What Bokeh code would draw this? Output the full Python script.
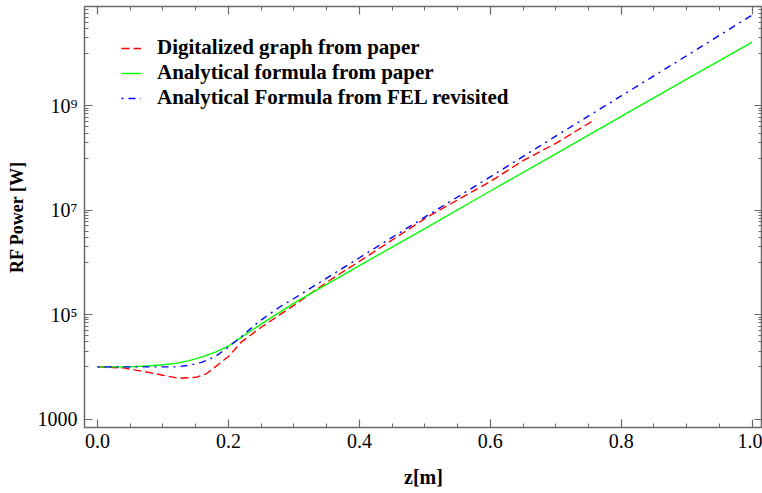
import numpy as np
from bokeh.plotting import figure
from bokeh.models import Range1d, LogAxis, LinearAxis, FixedTicker, Legend, LegendItem, PrintfTickFormatter
from bokeh.embed import file_html
from bokeh.resources import INLINE

# --- data (z in m, power in W) ---
z_digit = [0.00, 0.04, 0.08, 0.10, 0.125, 0.15, 0.165, 0.18, 0.20, 0.22, 0.25, 0.30,
           0.35, 0.40, 0.45, 0.50, 0.55, 0.60, 0.65, 0.70, 0.76]
p_digit = [1.00e4, 9.55e3, 7.76e3, 6.92e3, 6.03e3, 6.31e3, 7.24e3, 1.00e4, 1.58e4, 3.02e4,
           5.75e4, 1.51e5, 4.17e5, 1.05e6, 2.69e6, 6.92e6, 1.58e7, 3.55e7, 8.91e7, 1.91e8, 5.50e8]

z_paper = [0.00, 0.05, 0.08, 0.10, 0.12, 0.14, 0.16, 0.18, 0.20, 0.22, 0.25, 0.30,
           0.40, 0.50, 0.60, 0.70, 0.80, 0.90, 1.00]
p_paper = [1.00e4, 1.00e4, 1.05e4, 1.10e4, 1.17e4, 1.32e4, 1.55e4, 1.91e4, 2.51e4, 3.72e4,
           6.61e4, 1.66e5, 8.71e5, 4.47e6, 2.34e7, 1.20e8, 6.31e8, 3.24e9, 1.66e10]

z_fel = [0.00, 0.05, 0.10, 0.12, 0.14, 0.16, 0.18, 0.20, 0.22, 0.24, 0.26, 0.28, 0.30,
         0.35, 0.40, 0.50, 0.60, 0.70, 0.80, 0.90, 1.00]
p_fel = [1.00e4, 1.00e4, 1.00e4, 1.00e4, 1.07e4, 1.23e4, 1.58e4, 2.40e4, 3.80e4, 6.31e4,
         9.77e4, 1.45e5, 2.04e5, 5.01e5, 1.23e6, 7.41e6, 4.37e7, 2.63e8, 1.55e9, 9.12e9, 5.50e10]

x_major = [0.0, 0.2, 0.4, 0.6, 0.8, 1.0]
x_minor = list(np.round(np.arange(0.0, 1.05, 0.05), 2))
y_major = [1e3, 1e5, 1e7, 1e9]
y_minor = [k * 10.0 ** e for e in (4, 6, 8, 10) for k in range(1, 10)]
y_labels = {1e3: "1000", 1e5: "10\u2075", 1e7: "10\u2077", 1e9: "10\u2079"}

labels = ["Digitalized graph from paper", "Analytical formula from paper",
          "Analytical Formula from FEL revisited"]

FONT = "Liberation Serif"
FRAME = "#6a6a6a"

p = figure(width=762, height=493, x_range=Range1d(-0.0199, 1.0158),
           y_range=Range1d(690, 8.0e10), y_axis_type="log",
           output_backend="svg", toolbar_location=None,
           min_border_left=84, min_border_right=0, min_border_top=6, min_border_bottom=66)
p.xgrid.visible = False
p.ygrid.visible = False
p.outline_line_color = FRAME
p.outline_line_width = 1.5
p.background_fill_color = "white"
p.border_fill_color = "white"

r1 = p.line(z_digit, p_digit, line_color="#ff0000", line_width=1.4, line_dash="8 4")
r2 = p.line(z_paper, p_paper, line_color="#00ff00", line_width=1.4)
r3 = p.line(z_fel, p_fel, line_color="#0000ff", line_width=1.4, line_dash="2 5 7 5")

xt = FixedTicker(ticks=x_major, minor_ticks=x_minor)
yt = FixedTicker(ticks=y_major, minor_ticks=y_minor)

def style(ax):
    ax.axis_line_color = None
    ax.major_tick_line_color = FRAME
    ax.minor_tick_line_color = FRAME
    ax.major_tick_line_width = 1.2
    ax.minor_tick_line_width = 1.0
    ax.major_tick_in = 8
    ax.major_tick_out = 0
    ax.minor_tick_in = 4
    ax.minor_tick_out = 0
    ax.major_label_text_font = FONT
    ax.major_label_text_font_size = "20px"
    ax.major_label_text_color = "black"
    ax.axis_label_text_font = FONT
    ax.axis_label_text_font_style = "bold"
    ax.axis_label_text_color = "black"

xa = p.xaxis[0]
xa.ticker = xt
xa.formatter = PrintfTickFormatter(format="%.1f")
style(xa)
xa.major_label_standoff = 6
xa.axis_label = "z[m]"
xa.axis_label_text_font_size = "20px"
xa.axis_label_standoff = 15

ya = p.yaxis[0]
ya.ticker = yt
ya.major_label_overrides = y_labels
style(ya)
ya.major_label_standoff = 7
ya.axis_label = "RF Power [W]"
ya.axis_label_text_font_size = "18px"
ya.axis_label_standoff = 8

top = LinearAxis(ticker=FixedTicker(ticks=x_major, minor_ticks=x_minor))
style(top)
top.major_label_text_font_size = "1px"
top.major_label_text_alpha = 0
top.major_label_standoff = 0
p.add_layout(top, "above")
right = LogAxis(ticker=FixedTicker(ticks=y_major, minor_ticks=y_minor))
style(right)
right.major_label_text_font_size = "1px"
right.major_label_text_alpha = 0
right.major_label_standoff = 0
p.add_layout(right, "right")

legend = Legend(items=[LegendItem(label=labels[0], renderers=[r1]),
                       LegendItem(label=labels[1], renderers=[r2]),
                       LegendItem(label=labels[2], renderers=[r3])],
                location=(37, 317), padding=0, margin=0, spacing=0,
                glyph_width=20, glyph_height=20, label_standoff=16,
                label_text_font=FONT, label_text_font_style="bold",
                label_text_font_size="21px", label_text_color="black",
                border_line_color=None, background_fill_alpha=0)
p.add_layout(legend, "center")

open("out.html", "w").write(file_html(p, INLINE))
